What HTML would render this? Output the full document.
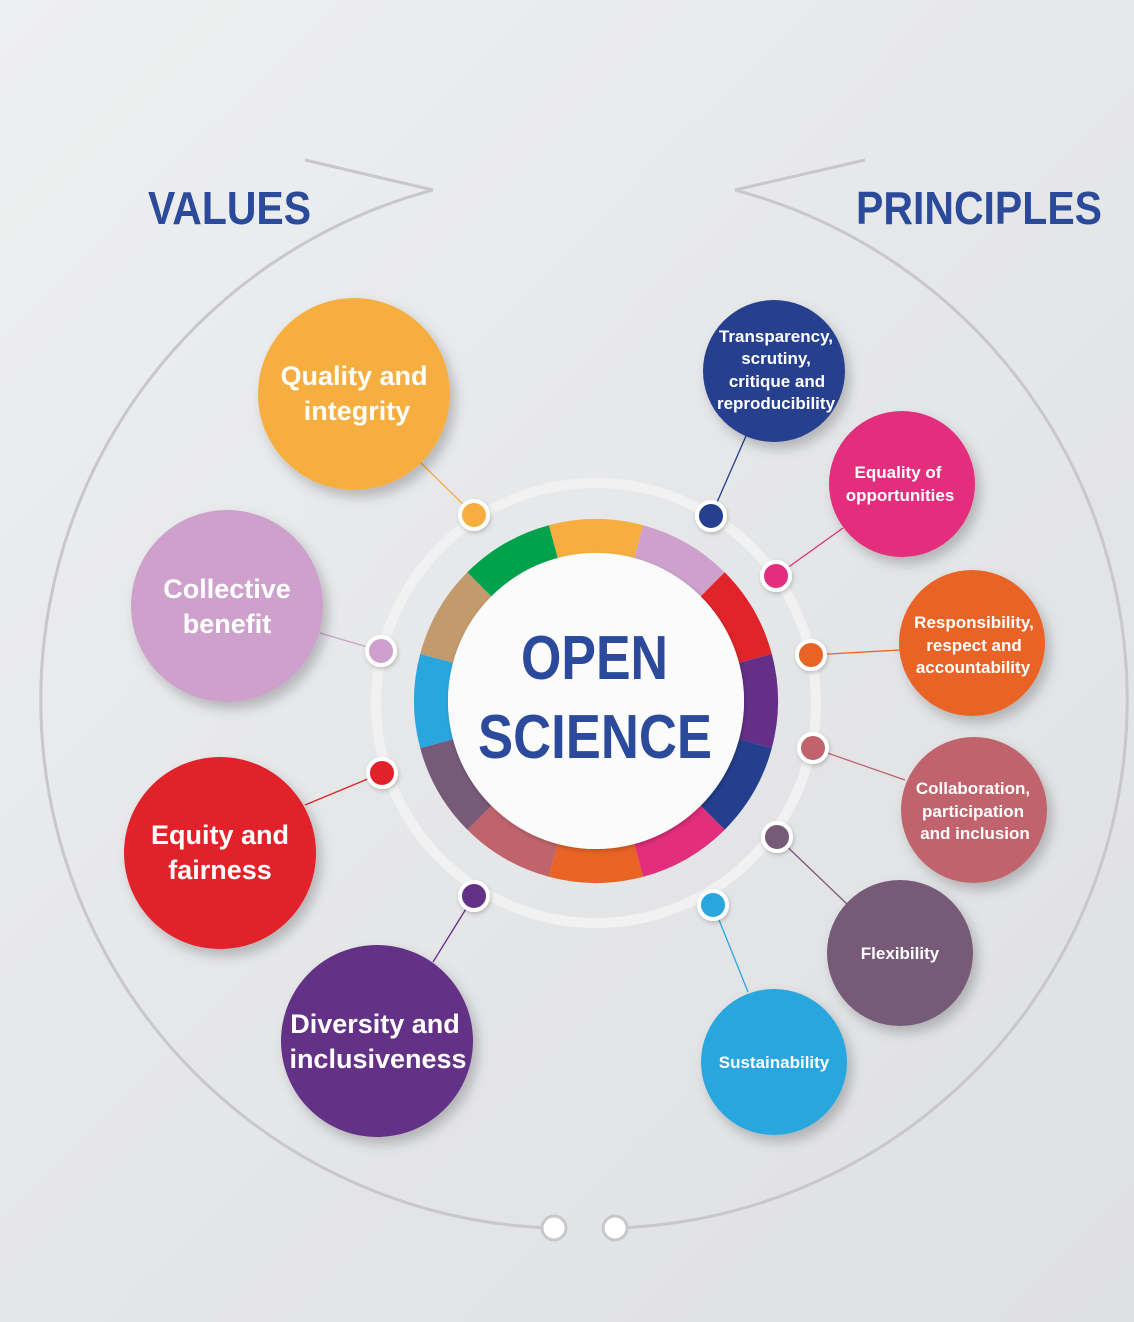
<!DOCTYPE html>
<html><head><meta charset="utf-8"><style>
html,body{margin:0;padding:0;}
body{width:1134px;height:1322px;overflow:hidden;background:linear-gradient(135deg,#eeeff0 0%,#e4e5e7 60%,#dfe0e2 100%);}
svg{display:block;}
text{font-family:"Liberation Sans",sans-serif;font-weight:bold;}
</style></head><body>
<svg width="1134" height="1322" viewBox="0 0 1134 1322" xmlns="http://www.w3.org/2000/svg">
<defs>
<filter id="sh" x="-30%" y="-30%" width="160%" height="160%"><feDropShadow dx="5" dy="7" stdDeviation="6" flood-color="#000" flood-opacity="0.22"/></filter>
<filter id="sh2" x="-50%" y="-50%" width="200%" height="200%"><feDropShadow dx="1" dy="2" stdDeviation="2" flood-color="#000" flood-opacity="0.2"/></filter>
</defs>
<path d="M433 190 A528 528 0 0 0 553 1228" fill="none" stroke="#c8c8ca" stroke-width="3"/>
<path d="M735 190 A528 528 0 0 1 615 1228" fill="none" stroke="#c8c8ca" stroke-width="3"/>
<polyline points="305,160 433,190" fill="none" stroke="#c8c8ca" stroke-width="3"/>
<polyline points="865,160 735,190" fill="none" stroke="#c8c8ca" stroke-width="3"/>
<circle cx="554" cy="1228" r="12" fill="#fff" stroke="#c8c8ca" stroke-width="3"/>
<circle cx="615" cy="1228" r="12" fill="#fff" stroke="#c8c8ca" stroke-width="3"/>
<text x="148" y="224" font-size="46" fill="#2b4a9b" textLength="163" lengthAdjust="spacingAndGlyphs">VALUES</text>
<text x="856" y="224" font-size="46" fill="#2b4a9b" textLength="246" lengthAdjust="spacingAndGlyphs">PRINCIPLES</text>
<circle cx="596" cy="703" r="220" fill="none" stroke="#f1f1f2" stroke-width="10"/>
<g stroke-width="1.3">
<line x1="474" y1="515" x2="420" y2="462" stroke="#f7ae41"/>
<line x1="381" y1="651" x2="320" y2="633" stroke="#cda1cb"/>
<line x1="382" y1="773" x2="305" y2="805" stroke="#e12429"/>
<line x1="474" y1="896" x2="433" y2="962" stroke="#643087"/>
<line x1="711" y1="516" x2="746" y2="436" stroke="#253f8f"/>
<line x1="776" y1="576" x2="843" y2="528" stroke="#e22e7b"/>
<line x1="811" y1="655" x2="900" y2="650" stroke="#e96325"/>
<line x1="813" y1="748" x2="905" y2="780" stroke="#c0646c"/>
<line x1="777" y1="837" x2="848" y2="905" stroke="#775a78"/>
<line x1="713" y1="905" x2="748" y2="992" stroke="#2aa6de"/>
</g>
<g fill="none" stroke-width="34">
<circle cx="596" cy="701" r="165" stroke="#f7ae41" stroke-dasharray="86.4 1000" transform="rotate(-105 596 701)"/>
<circle cx="596" cy="701" r="165" stroke="#cda1cb" stroke-dasharray="86.4 1000" transform="rotate(-75 596 701)"/>
<circle cx="596" cy="701" r="165" stroke="#e12429" stroke-dasharray="86.4 1000" transform="rotate(-45 596 701)"/>
<circle cx="596" cy="701" r="165" stroke="#643087" stroke-dasharray="86.4 1000" transform="rotate(-15 596 701)"/>
<circle cx="596" cy="701" r="165" stroke="#253f8f" stroke-dasharray="86.4 1000" transform="rotate(15 596 701)"/>
<circle cx="596" cy="701" r="165" stroke="#e22e7b" stroke-dasharray="86.4 1000" transform="rotate(45 596 701)"/>
<circle cx="596" cy="701" r="165" stroke="#e96325" stroke-dasharray="86.4 1000" transform="rotate(75 596 701)"/>
<circle cx="596" cy="701" r="165" stroke="#c0646c" stroke-dasharray="86.4 1000" transform="rotate(105 596 701)"/>
<circle cx="596" cy="701" r="165" stroke="#775a78" stroke-dasharray="86.4 1000" transform="rotate(135 596 701)"/>
<circle cx="596" cy="701" r="165" stroke="#2aa6de" stroke-dasharray="86.4 1000" transform="rotate(165 596 701)"/>
<circle cx="596" cy="701" r="165" stroke="#c39a6b" stroke-dasharray="86.4 1000" transform="rotate(195 596 701)"/>
<circle cx="596" cy="701" r="165" stroke="#00a24b" stroke-dasharray="86.4 1000" transform="rotate(225 596 701)"/>
</g>
<circle cx="596" cy="701" r="148" fill="#fbfbfb" filter="url(#sh2)"/>
<text x="521" y="679" font-size="62" fill="#2b4a9b" textLength="147" lengthAdjust="spacingAndGlyphs">OPEN</text>
<text x="478" y="758" font-size="62" fill="#2b4a9b" textLength="234" lengthAdjust="spacingAndGlyphs">SCIENCE</text>
<g stroke="#fff" stroke-width="4" filter="url(#sh2)">
<circle cx="474" cy="515" r="14" fill="#f7ae41"/>
<circle cx="381" cy="651" r="14" fill="#cda1cb"/>
<circle cx="382" cy="773" r="14" fill="#e12429"/>
<circle cx="474" cy="896" r="14" fill="#643087"/>
<circle cx="711" cy="516" r="14" fill="#253f8f"/>
<circle cx="776" cy="576" r="14" fill="#e22e7b"/>
<circle cx="811" cy="655" r="14" fill="#e96325"/>
<circle cx="813" cy="748" r="14" fill="#c0646c"/>
<circle cx="777" cy="837" r="14" fill="#775a78"/>
<circle cx="713" cy="905" r="14" fill="#2aa6de"/>
</g>
<g filter="url(#sh)">
<circle cx="354" cy="394" r="96" fill="#f7ae41"/>
<circle cx="227" cy="606" r="96" fill="#cda1cb"/>
<circle cx="220" cy="853" r="96" fill="#e12429"/>
<circle cx="377" cy="1041" r="96" fill="#643087"/>
<circle cx="774" cy="371" r="71" fill="#253f8f"/>
<circle cx="902" cy="484" r="73" fill="#e22e7b"/>
<circle cx="972" cy="643" r="73" fill="#e96325"/>
<circle cx="974" cy="810" r="73" fill="#c0646c"/>
<circle cx="900" cy="953" r="73" fill="#775a78"/>
<circle cx="774" cy="1062" r="73" fill="#2aa6de"/>
</g>
<g fill="#fff" text-anchor="middle">
<text x="354" y="385" font-size="27">Quality and</text>
<text x="357" y="420" font-size="27">integrity</text>
<text x="227" y="598" font-size="27">Collective</text>
<text x="227" y="633" font-size="27">benefit</text>
<text x="220" y="844" font-size="27">Equity and</text>
<text x="220" y="879" font-size="27">fairness</text>
<text x="375" y="1033" font-size="27">Diversity and</text>
<text x="378" y="1068" font-size="27">inclusiveness</text>
<text x="776" y="342" font-size="17">Transparency,</text>
<text x="776" y="364" font-size="17">scrutiny,</text>
<text x="777" y="387" font-size="17">critique and</text>
<text x="776" y="409" font-size="17">reproducibility</text>
<text x="898" y="478" font-size="17">Equality of</text>
<text x="900" y="501" font-size="17">opportunities</text>
<text x="974" y="628" font-size="17">Responsibility,</text>
<text x="974" y="651" font-size="17">respect and</text>
<text x="973" y="673" font-size="17">accountability</text>
<text x="973" y="794" font-size="17">Collaboration,</text>
<text x="973" y="817" font-size="17">participation</text>
<text x="975" y="839" font-size="17">and inclusion</text>
<text x="900" y="959" font-size="17">Flexibility</text>
<text x="774" y="1068" font-size="17">Sustainability</text>
</g>
</svg>
</body></html>
